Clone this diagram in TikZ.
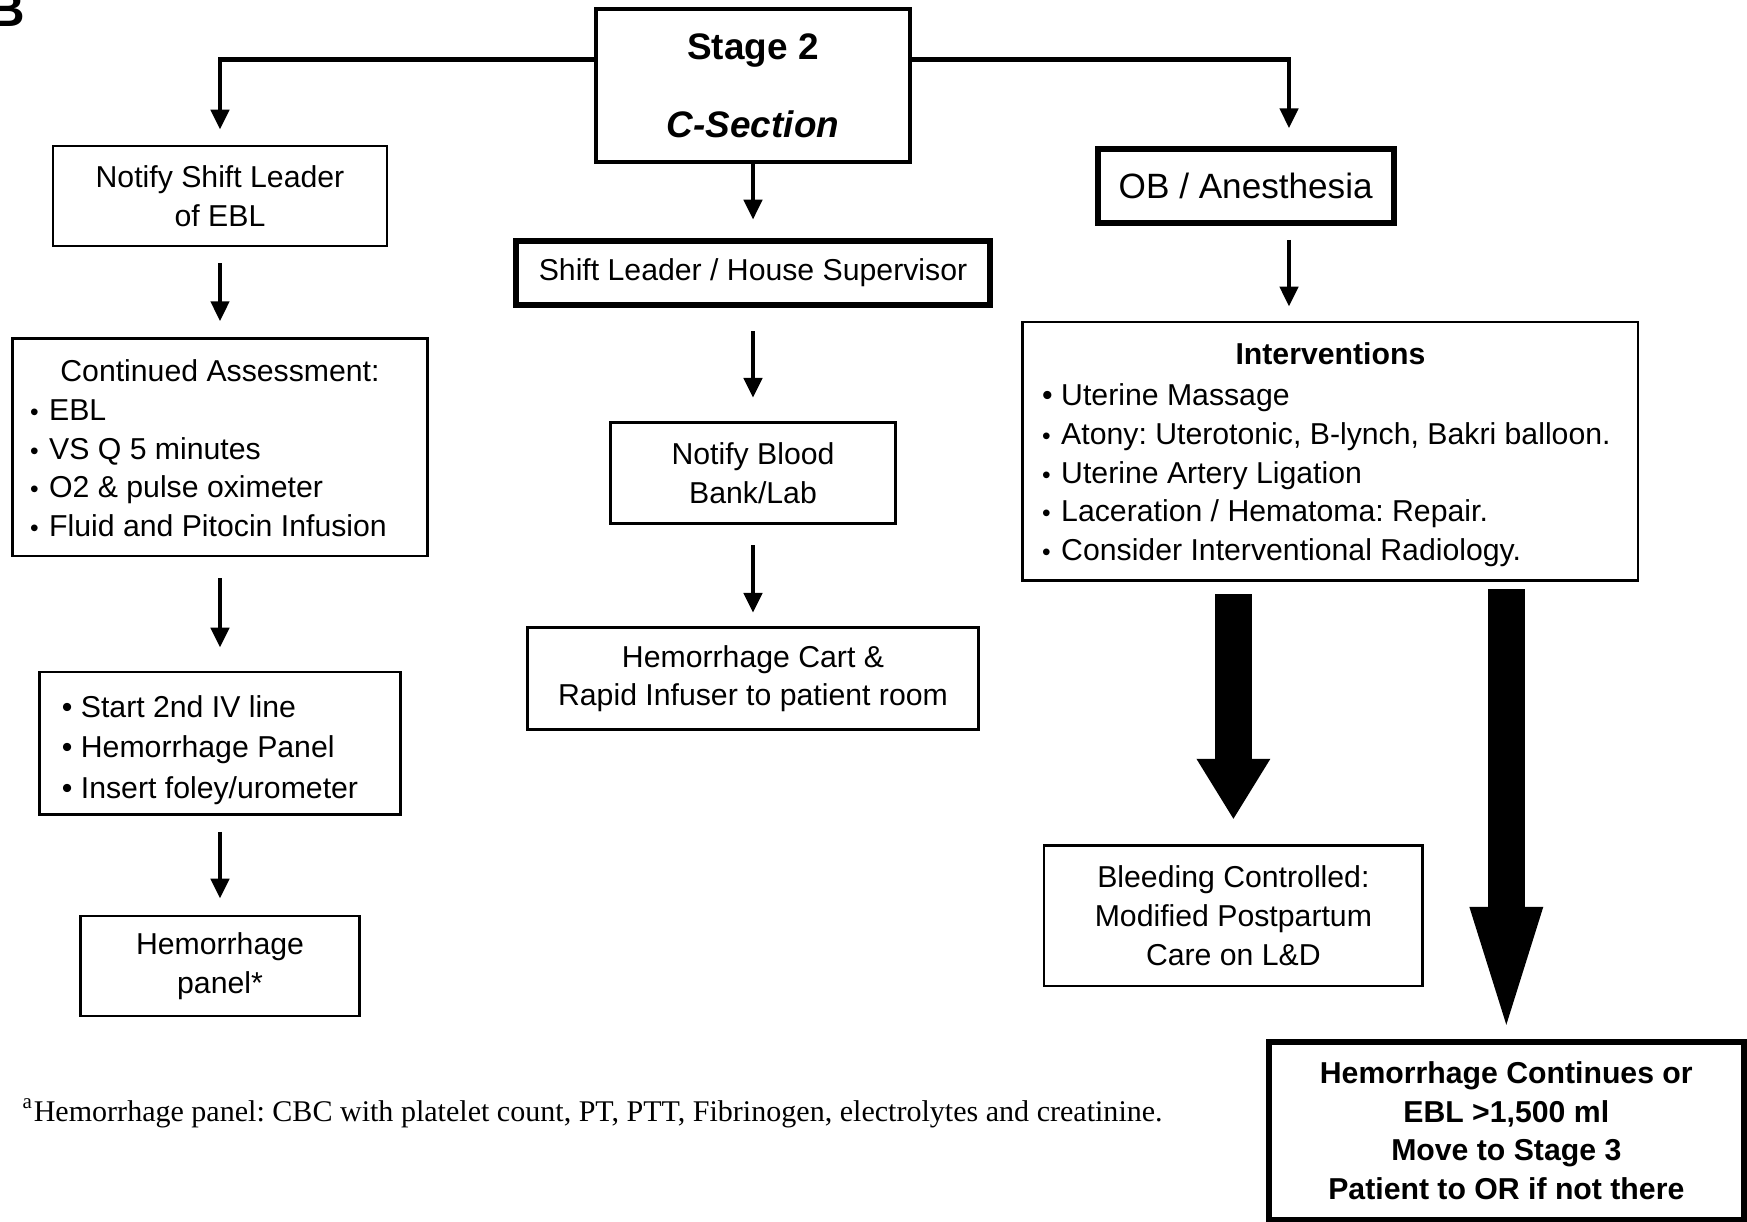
\documentclass[tikz,border=0pt]{standalone}
\usepackage{fontspec}
\setmainfont{Liberation Sans}
\newfontfamily\notefont{Liberation Serif}
\usetikzlibrary{arrows.meta}
\frenchspacing

% list markers: small low dot and full dot
\newcommand{\bul}{\makebox[1.9mm][l]{\scriptsize\textbullet}}
\newcommand{\Bul}{\makebox[1.9mm][l]{\textbullet}}
% push a block down inside its box by #1
\newcommand{\dropby}[2]{\raisebox{0pt}[\dimexpr\height+#1+#1\relax]{#2}}

\begin{document}
\begin{tikzpicture}[
    every node/.style={inner sep=0pt, font=\fontsize{8.6}{11}\selectfont},
    box/.style={draw, line width=0.8pt, align=center},
    thickbox/.style={box, line width=1.7pt},
    link/.style={line width=1.3pt, -{Triangle[width=1.8mm,length=2mm]}},
    arr/.style={link, shorten <=1.6mm, shorten >=1.6mm},
    fatarrow/.style={line width=3.7mm, -{Triangle[width=7.4mm,length=#1,line width=0pt]}}
  ]
  \useasboundingbox (0,0) rectangle (17.47,12.22);

  \node[anchor=south east, font=\fontsize{14}{16}\selectfont\bfseries] (tag) at (0.26,11.95) {B};

  % top box
  \node[box, line width=1.2pt, minimum width=3.14cm, minimum height=1.53cm,
        font=\fontsize{10.5}{12.6}\selectfont\bfseries] (stage) at (7.53,11.365)
        {Stage 2\\[9.6pt]\textit{C-Section}};

  % left column
  \node[box, minimum width=3.34cm, minimum height=1.0cm] (notify) at (2.20,10.26)
        {Notify Shift Leader\\of EBL};
  \node[box, minimum width=4.156cm, minimum height=2.173cm] (assess) at (2.20,7.7465)
        {\dropby{0.4mm}{\begin{tabular}{@{}l@{\hspace{2.3mm}}}
           \multicolumn{1}{@{}c@{}}{Continued Assessment:}\\
           \bul EBL\\
           \bul VS Q 5 minutes\\
           \bul O2 \& pulse oximeter\\
           \bul Fluid and Pitocin Infusion
         \end{tabular}}};
  \node[box, minimum width=3.61cm, minimum height=1.425cm] (iv) at (2.20,4.7875)
        {\dropby{0.7mm}{\begin{tabular}{@{}l@{\hspace{2mm}}}
           \Bul Start 2nd IV line\\[0.6pt]
           \Bul Hemorrhage Panel\\[0.6pt]
           \Bul Insert foley/urometer
         \end{tabular}}};
  \node[box, minimum width=2.785cm, minimum height=1.0cm] (panel) at (2.20,2.56)
        {Hemorrhage\\panel*};

  % middle column
  \node[thickbox, minimum width=4.745cm, minimum height=0.646cm] (shift) at (7.53,9.49)
        {Shift Leader / House Supervisor};
  \node[box, minimum width=2.852cm, minimum height=1.014cm] (blood) at (7.53,7.49)
        {Notify Blood\\Bank/Lab};
  \node[box, minimum width=4.503cm, minimum height=1.025cm] (cart) at (7.53,5.4345)
        {Hemorrhage Cart \&\\Rapid Infuser to patient room};

  % right column
  \node[thickbox, minimum width=2.964cm, minimum height=0.735cm,
        font=\fontsize{10}{12}\selectfont] (ob) at (12.457,10.3595) {OB / Anesthesia};
  \node[box, minimum width=6.151cm, minimum height=2.585cm] (interv) at (13.304,7.7075)
        {\dropby{0.35mm}{\begin{tabular}{@{}l@{\hspace{0.8mm}}}
           \multicolumn{1}{@{}c@{}}{\textbf{Interventions}}\\[0.3mm]
           \Bul Uterine Massage\\
           \bul Atony: Uterotonic, B-lynch, Bakri balloon.\\
           \bul Uterine Artery Ligation\\
           \bul Laceration / Hematoma: Repair.\\
           \bul Consider Interventional Radiology.
         \end{tabular}}};
  \node[box, minimum width=3.788cm, minimum height=1.403cm] (bleed) at (12.334,3.0615)
        {Bleeding Controlled:\\Modified Postpartum\\Care on L\&D};
  \node[thickbox, minimum width=4.746cm, minimum height=1.782cm,
        font=\fontsize{8.6}{11}\selectfont\bfseries] (cont) at (15.063,0.911)
        {\dropby{0.3mm}{\begin{tabular}{@{}c@{}}Hemorrhage Continues or\\EBL >1,500 ml\\Move to Stage 3\\Patient to OR if not there\end{tabular}}};

  \node[anchor=base west, font=\notefont\fontsize{8.55}{10}\selectfont] (note) at (0.22,1.003)
        {\textsuperscript{a}Hemorrhage panel: CBC with platelet count, PT, PTT, Fibrinogen, electrolytes and creatinine.};

  % connectors
  \draw[link, shorten >=1.5mm] ([yshift=2.6mm]stage.west) -| (notify.north);
  \draw[link, shorten >=1.8mm] ([yshift=2.6mm]stage.east) -| ([xshift=4.33mm]ob.north);
  \draw[link, shorten >=1.8mm] (stage.south) -- (shift.north);

  \draw[arr] (notify.south) -- (assess.north);
  \draw[arr, shorten <=2.1mm, shorten >=2.3mm] (assess.south) -- (iv.north);
  \draw[arr] (iv.south) -- (panel.north);

  \draw[arr, shorten <=2.3mm, shorten >=2.3mm] (shift.south) -- (blood.north);
  \draw[arr, shorten <=2mm, shorten >=1.3mm] (blood.south) -- (cart.north);

  \draw[arr, shorten <=1.4mm, shorten >=1.4mm] ([xshift=4.33mm]ob.south) -- ([xshift=4.33mm]ob.south |- interv.north);

  \draw[fatarrow=6mm] ([yshift=-1.25mm]interv.south -| bleed.north) -- ([yshift=2.55mm]bleed.north);
  \draw[fatarrow=11.8mm] ([yshift=-0.75mm]interv.south -| cont.north) -- ([yshift=1.4mm]cont.north);
\end{tikzpicture}
\end{document}
